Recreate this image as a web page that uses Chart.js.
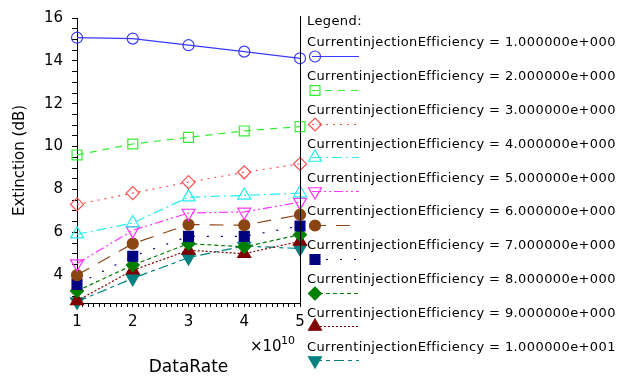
<!DOCTYPE html>
<html>
<head>
<meta charset="utf-8">
<script src="https://cdn.jsdelivr.net/npm/chart.js@4.4.1/dist/chart.umd.min.js"></script>
<style>
    html, body { margin: 0; padding: 0; background: #fff; }
</style>
</head>
<body>
<canvas id="extinctionChart" width="620" height="380"></canvas>
<script>
// DataRate, in units of 1e10
const dataRate = [1, 2, 3, 4, 5];

const efficiencyValues = [
    "1.000000e+000", "2.000000e+000", "3.000000e+000", "4.000000e+000", "5.000000e+000",
    "6.000000e+000", "7.000000e+000", "8.000000e+000", "9.000000e+000", "1.000000e+001",
];

// Extinction (dB) per injection efficiency
const ext1 = [15.08, 15.04, 14.73, 14.43, 14.12];
const ext2 = [9.61, 10.12, 10.43, 10.73, 10.93];
const ext3 = [7.30, 7.83, 8.34, 8.80, 9.19];
const ext4 = [5.91, 6.43, 7.64, 7.72, 7.83];
const ext5 = [4.54, 6.09, 6.90, 6.95, 7.41];
const ext6 = [4.00, 5.47, 6.36, 6.33, 6.82];
const ext7 = [3.57, 4.88, 5.81, 5.81, 6.29];
const ext8 = [3.26, 4.47, 5.47, 5.32, 5.89];
const ext9 = [2.80, 4.23, 5.16, 5.00, 5.58];
const ext10 = [2.76, 3.85, 4.82, 5.36, 5.24];

const seriesValues = [ext1, ext2, ext3, ext4, ext5, ext6, ext7, ext8, ext9, ext10];

const yMajorTicks = [4, 6, 8, 10, 12, 14, 16];
const xMajorTicks = [1, 2, 3, 4, 5];

// line / marker styling for each series
const lineColors = ["#3a3aff", "#33ee33", "#ff5050", "#22eeee", "#ff33ff",
                    "#8b4513", "#000080", "#008000", "#800000", "#008080"];
const markerStyles = ["circle", "rect", "rectRot", "triangle", "triangle",
                      "circle", "rect", "rectRot", "triangle", "triangle"];
const markerRotation = [0, 0, 0, 0, 180, 0, 0, 0, 0, 180];
const markerFilled = [false, false, false, false, false, true, true, true, true, true];
const markerRadius = [5.5, 7, 6.5, 7.5, 7.5, 5.5, 7, 6.5, 7.5, 7.5];
const lineDashes = [[], [7, 6], [2, 5], [10, 4, 2, 4], [9, 3, 2, 3, 2, 3],
                    [14, 10], [2, 12], [4, 3], [2, 2], [10, 4, 4, 4]];

const FONT = "'DejaVu Sans', sans-serif";

const datasets = seriesValues.map((vals, i) => ({
    label: "CurrentinjectionEfficiency = " + efficiencyValues[i],
    data: dataRate.map((x, j) => ({ x: x, y: vals[j] })),
    borderColor: lineColors[i],
    borderWidth: 1.2,
    borderDash: lineDashes[i],
    pointStyle: markerStyles[i],
    rotation: markerRotation[i],
    pointRadius: markerRadius[i],
    pointBorderWidth: 1.2,
    pointBorderColor: lineColors[i],
    pointBackgroundColor: markerFilled[i] ? lineColors[i] : "rgba(0,0,0,0)",
    fill: false,
    tension: 0,
    clip: false,
}));

// legend on the right side plus the x10^10 exponent and right frame line
const sideLegend = {
    id: "sideLegend",
    afterDraw(chart) {
        const ctx = chart.ctx;
        const area = chart.chartArea;
        ctx.save();

        ctx.strokeStyle = "#000";
        ctx.lineWidth = 1;
        ctx.beginPath();
        ctx.moveTo(Math.round(area.right) + 0.5, area.top - 2);
        ctx.lineTo(Math.round(area.right) + 0.5, area.bottom);
        ctx.stroke();

        ctx.fillStyle = "#000";
        ctx.textBaseline = "middle";
        ctx.font = "15px " + FONT;
        ctx.fillText("\u00d710", 250, 347);
        ctx.font = "11px " + FONT;
        ctx.fillText("10", 281, 341);

        ctx.font = "13px " + FONT;
        if ("letterSpacing" in ctx) ctx.letterSpacing = "0.4px";
        ctx.fillText("Legend:", 307, 22);

        chart.data.datasets.forEach((ds, i) => {
            const y = 43 + i * 33.8;
            ctx.fillStyle = "#000";
            ctx.fillText(ds.label, 307, y);

            const ly = Math.round(y + 13) + 0.5;
            ctx.strokeStyle = ds.borderColor;
            ctx.lineWidth = 1.2;
            ctx.setLineDash(ds.borderDash);
            ctx.beginPath();
            ctx.moveTo(312, ly);
            ctx.lineTo(359, ly);
            ctx.stroke();
            ctx.setLineDash([]);

            ctx.fillStyle = ds.pointBackgroundColor;
            ctx.strokeStyle = ds.pointBorderColor;
            ctx.lineWidth = 1.2;
            Chart.helpers.drawPoint(ctx, {
                pointStyle: ds.pointStyle,
                rotation: ds.rotation,
                radius: ds.pointRadius,
                borderWidth: 1.2,
            }, 315, ly);
        });
        ctx.restore();
    },
};

const isMajor = (v, majors) => majors.some(m => Math.abs(m - v) < 1e-6);

const ctx = document.getElementById("extinctionChart").getContext("2d");

const chart = new Chart(ctx, {
    type: "line",
    data: { datasets: datasets },
    options: {
        responsive: false,
        animation: false,
        devicePixelRatio: 1,
        layout: { padding: { top: 17, right: 320, left: 0, bottom: 0 } },
        plugins: {
            legend: { display: false },
            tooltip: { enabled: false },
        },
        scales: {
            x: {
                type: "linear",
                min: 1,
                max: 5,
                afterBuildTicks: (scale) => {
                    const t = [];
                    for (let k = 0; k <= 40; k++) t.push({ value: Math.round((1 + k / 10) * 10) / 10 });
                    scale.ticks = t;
                },
                afterFit: (scale) => { scale.height = 77; },
                ticks: {
                    autoSkip: false,
                    maxRotation: 0,
                    padding: 6,
                    color: "#000",
                    font: { family: FONT, size: 15 },
                    callback: (v) => isMajor(v, xMajorTicks) ? String(Math.round(v)) : "",
                },
                grid: { drawOnChartArea: false, tickLength: 4, tickColor: "#000" },
                border: { color: "#000", width: 1 },
                title: {
                    display: true,
                    text: "DataRate",
                    color: "#000",
                    font: { family: FONT, size: 17 },
                    padding: { top: 0, bottom: 2 },
                },
            },
            y: {
                min: 2.7,
                max: 16,
                afterBuildTicks: (scale) => {
                    const t = [];
                    for (let k = 0; k <= 26; k++) t.push({ value: 3 + k * 0.5 });
                    scale.ticks = t;
                },
                afterFit: (scale) => { scale.width = 77; },
                ticks: {
                    autoSkip: false,
                    padding: 9,
                    color: "#000",
                    font: { family: FONT, size: 15 },
                    callback: (v) => isMajor(v, yMajorTicks) ? String(v) : "",
                },
                grid: { drawOnChartArea: false, tickLength: 5, tickColor: "#000" },
                border: { color: "#000", width: 1 },
                title: {
                    display: true,
                    text: "Extinction (dB)",
                    color: "#000",
                    font: { family: FONT, size: 15 },
                    padding: { top: 11, bottom: 0 },
                },
            },
        },
    },
    plugins: [sideLegend],
});
</script>
</body>
</html>
